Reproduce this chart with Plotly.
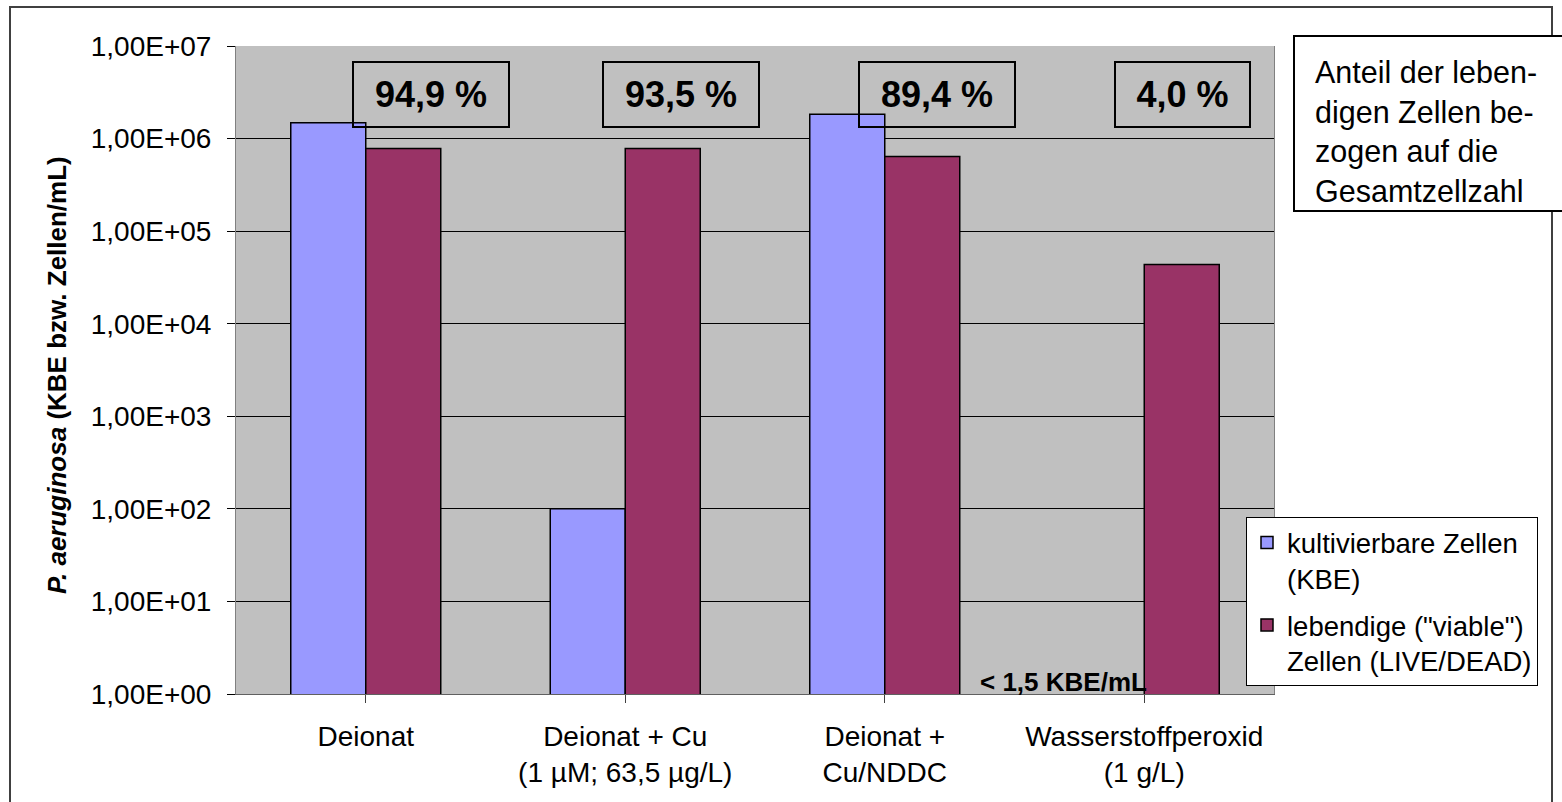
import plotly.graph_objects as go

# Categories and measured cell counts (log scale)
categories = [
    "Deionat",
    "Deionat + Cu<br>(1 µM; 63,5 µg/L)",
    "Deionat +<br>Cu/NDDC",
    "Wasserstoffperoxid<br>(1 g/L)",
]
kbe_counts = [1.48e6, 1.0e2, 1.83e6, None]          # kultivierbare Zellen (KBE)
viable_counts = [7.8e5, 7.8e5, 6.4e5, 4.37e4]       # lebendige Zellen (LIVE/DEAD)
viable_share = ["94,9 %", "93,5 %", "89,4 %", "4,0 %"]
detection_note = "< 1,5 KBE/mL"

tick_vals = [1e0, 1e1, 1e2, 1e3, 1e4, 1e5, 1e6, 1e7]
tick_text = ["1,00E+00", "1,00E+01", "1,00E+02", "1,00E+03",
             "1,00E+04", "1,00E+05", "1,00E+06", "1,00E+07"]

W, H = 1562, 802
PL, PR, PT, PB = 236, 1274, 46, 694  # plot area in pixels
FONT = "Liberation Sans, Arial, sans-serif"


def px(x):
    return (x - PL) / (PR - PL)


def py(y):
    return 1 - (y - PT) / (PB - PT)


fig = go.Figure()
fig.add_trace(go.Bar(
    x=list(range(len(categories))), y=kbe_counts,
    name="kultivierbare Zellen<br>(KBE)",
    marker=dict(color="#9999FF", line=dict(color="black", width=1.5)),
    legendgroup="a",
))
fig.add_trace(go.Bar(
    x=list(range(len(categories))), y=viable_counts,
    name="lebendige (\"viable\")<br>Zellen (LIVE/DEAD)",
    marker=dict(color="#993366", line=dict(color="black", width=1.5)),
    legendgroup="b",
))

# percentage boxes above each group
box_x = [0.25, 1.214, 2.2, 3.146]
box_w = [154, 154, 154, 133]
for xi, txt, bw in zip(box_x, viable_share, box_w):
    fig.add_annotation(
        x=xi, y=6.476, xref="x", yref="y", text=f"<b>{txt}</b>",
        showarrow=False, width=bw, height=63, borderpad=0,
        bordercolor="black", borderwidth=2, bgcolor="rgba(0,0,0,0)",
        font=dict(family=FONT, size=36, color="black"),
    )

# detection limit note for the missing KBE bar
fig.add_annotation(
    x=2.688, y=0.135, xref="x", yref="y", text=f"<b>{detection_note}</b>",
    showarrow=False, xanchor="center", yanchor="middle",
    font=dict(family=FONT, size=26, color="black"),
)

# y axis title
fig.add_annotation(
    x=px(57), y=py(375), xref="paper", yref="paper",
    xanchor="center", yanchor="middle",
    text="<b><i>P. aeruginosa</i> (KBE bzw. Zellen/mL)</b>",
    textangle=-90, showarrow=False,
    font=dict(family=FONT, size=26, color="black"),
)

# explanation box on the right
fig.add_shape(type="rect", xref="paper", yref="paper",
              x0=px(1294), x1=px(1640), y0=py(211), y1=py(36),
              line=dict(color="black", width=2), fillcolor="white", layer="above")
fig.add_annotation(
    x=px(1313), y=py(53), xref="paper", yref="paper",
    xanchor="left", yanchor="top", align="left",
    text="Anteil der leben-<br>digen Zellen be-<br>zogen auf die<br>Gesamtzellzahl",
    showarrow=False, font=dict(family=FONT, size=30.5, color="black"),
)

# outer chart border
fig.add_shape(type="rect", xref="paper", yref="paper",
              x0=px(10), x1=px(1552), y0=py(806), y1=py(7),
              line=dict(color="#404040", width=2), layer="below")

fig.update_layout(
    width=W, height=H,
    margin=dict(l=PL, r=W - PR, t=PT, b=H - PB, pad=0),
    paper_bgcolor="white", plot_bgcolor="#C0C0C0",
    barmode="group", bargap=0.422, bargroupgap=0,
    font=dict(family=FONT, size=28, color="black"),
    legend=dict(
        x=px(1246), y=py(517), xanchor="left", yanchor="top",
        bgcolor="white", bordercolor="black", borderwidth=1,
        font=dict(family=FONT, size=27.5, color="black"),
        valign="top", traceorder="grouped", tracegroupgap=8,
    ),
    showlegend=True,
)

fig.update_xaxes(
    tickmode="array", tickvals=list(range(len(categories))), ticktext=categories,
    range=[-0.5, len(categories) - 0.5],
    tickson="boundaries", ticks="outside", ticklen=8, tickcolor="#404040",
    showline=True, linecolor="#606060", linewidth=1,
    showgrid=False, ticklabelstandoff=9,
    tickfont=dict(family=FONT, size=28, color="black"),
)
fig.update_yaxes(
    type="log", range=[0, 7],
    tickmode="array", tickvals=tick_vals, ticktext=tick_text,
    ticks="outside", ticklen=8, tickcolor="black",
    showgrid=True, gridcolor="black", gridwidth=1,
    showline=True, linecolor="#808080", linewidth=1, mirror=True,
    ticklabelstandoff=10,
    tickfont=dict(family=FONT, size=28, color="black"),
    zeroline=False,
)

fig.write_html("out.html")
